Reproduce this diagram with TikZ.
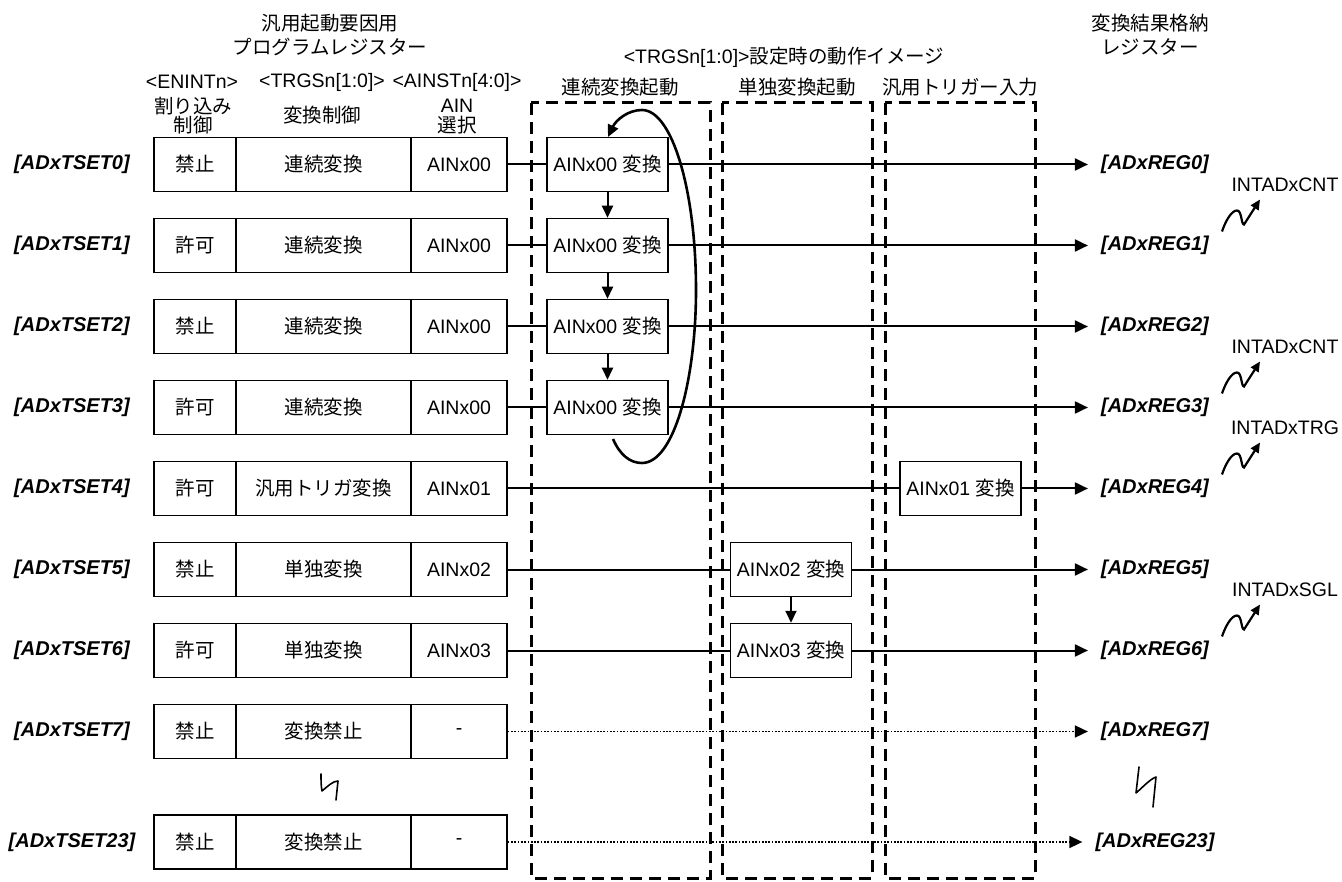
\documentclass[tikz,border=0pt]{standalone}
\usepackage{fontspec}
\setmainfont{Liberation Sans}
\newfontfamily\jpf{Noto Sans CJK JP}
\usetikzlibrary{arrows.meta}
\begin{document}
\begin{tikzpicture}[x=1pt,y=-1pt,
  every node/.style={inner sep=0pt, font=\fontsize{19.5}{21}\selectfont},
  lbl/.style={font=\fontsize{20}{22}\selectfont\bfseries\itshape},
  cell/.style={draw, line width=1.5pt, minimum height=54pt},
  conv/.style={draw, line width=1.5pt, minimum height=54pt, minimum width=121pt, fill=white},
  rowline/.style={line width=2pt},
  rowarrow/.style={line width=2pt, -{Triangle[length=13pt,width=12pt]}, shorten >=13pt},
  dotarrow/.style={line width=1.7pt, dash pattern=on 1.7pt off 1.6pt, -{Triangle[length=13pt,width=12pt]}, shorten >=13pt},
  vstep/.style={line width=2pt, -{Triangle[length=12pt,width=11pt]}},
  zone/.style={line width=3pt, dash pattern=on 12pt off 7pt},
  brk/.style={line width=1.6pt, line join=round, line cap=round},
  intsq/.pic={\draw[line width=2.2pt, -{Triangle[length=10pt,width=9pt]}]
     (0,0) .. controls (3,-9) and (9,-21) .. (15,-21)
     .. controls (20,-21) and (19,-7) .. (22,-7) -- (38,-32);}
]
\useasboundingbox (0,0) rectangle (1342,882);

% dashed zones
\draw[zone] (531,103) rectangle (710,878);
\draw[zone] (722,103) rectangle (872,878);
\draw[zone] (885,103) rectangle (1035,878);

% headers
\node (t1) at (330,23) {\jpf 汎用起動要因用};
\node (t2) at (330,47) {\jpf プログラムレジスター};
\node (t3) at (192,82) {<ENINTn>};
\node (t4) at (322,82) {<TRGSn[1:0]>};
\node (t5) at (457,82) {<AINSTn[4:0]>};
\node (t6) at (193,106) {\jpf 割り込み};
\node (t7) at (193,125) {\jpf 制御};
\node (t8) at (322,115) {\jpf 変換制御};
\node (t9) at (457,106) {AIN};
\node (t10) at (457,125) {\jpf 選択};
\node (t11) at (784,57) {<TRGSn[1:0]>{\jpf 設定時の動作イメージ}};
\node (t12) at (620,87) {\jpf 連続変換起動};
\node (t13) at (797,87) {\jpf 単独変換起動};
\node (t14) at (960,87) {\jpf 汎用トリガー入力};
\node (t15) at (1150,23) {\jpf 変換結果格納};
\node (t16) at (1150,47) {\jpf レジスター};

% register rows
\foreach \k/\yy/\en/\md/\ai in {0/164.5/禁止/連続変換/AINx00, 1/245.5/許可/連続変換/AINx00,
   2/326.5/禁止/連続変換/AINx00, 3/407.5/許可/連続変換/AINx00, 4/488.5/許可/汎用トリガ変換/AINx01,
   5/569.5/禁止/単独変換/AINx02, 6/650.5/許可/単独変換/AINx03, 7/731.5/禁止/変換禁止/-,
   23/842/禁止/変換禁止/-}{
  \node[lbl] (lb\k) at (72,\yy) {[ADxTSET\k]};
  \node[cell, minimum width=82pt] (en\k) at (195,\yy) {\jpf \en};
  \node[cell, minimum width=175pt] (md\k) at (323.5,\yy) {\jpf \md};
  \node[cell, minimum width=96pt] (ai\k) at (459,\yy) {\ai};
  \node[lbl] (rg\k) at (1155,\yy) {[ADxREG\k]};
}

% conversion boxes
\node[conv] (c0) at (607.5,164.5) {AINx00 {\jpf 変換}};
\node[conv] (c1) at (607.5,245.5) {AINx00 {\jpf 変換}};
\node[conv] (c2) at (607.5,326.5) {AINx00 {\jpf 変換}};
\node[conv] (c3) at (607.5,407.5) {AINx00 {\jpf 変換}};
\node[conv] (c4) at (960.5,488.5) {AINx01 {\jpf 変換}};
\node[conv] (c5) at (791,569.5) {AINx02 {\jpf 変換}};
\node[conv] (c6) at (791,650.5) {AINx03 {\jpf 変換}};

% row connectors
\foreach \k in {0,1,2,3,4,5,6}{
  \draw[rowline] (ai\k.east) -- (c\k.west);
  \draw[rowarrow] (c\k.east) -- (rg\k.west);
}
\draw[dotarrow] (ai7.east) -- (rg7.west);
\draw[dotarrow] (ai23.east) -- (rg23.west);

% sequence arrows
\draw[vstep] (c0.south) -- (c1.north);
\draw[vstep] (c1.south) -- (c2.north);
\draw[vstep] (c2.south) -- (c3.north);
\draw[vstep] (c5.south) -- (c6.north);

% loop
\coordinate (ls) at (613,439);
\coordinate (le) at (608,137);
\draw[line width=2.6pt, -{Triangle[length=12pt,width=11pt]}]
  (ls) .. controls (620,455) and (630,463) .. (642,463)
  .. controls (674,463) and (696,380) .. (696,290)
  .. controls (696,190) and (672,110) .. (642,110)
  .. controls (628,110) and (616,120) .. (le);

% interrupts
\pic at (1222,231.5) {intsq};
\pic at (1222,393.5) {intsq};
\pic at (1222,474.5) {intsq};
\pic at (1222,636.5) {intsq};
\node (i1) at (1285,184.5) {INTADxCNT};
\node (i3) at (1285,346.5) {INTADxCNT};
\node (i4) at (1285,427.5) {INTADxTRG};
\node (i6) at (1285,589.5) {INTADxSGL};

% break marks
\draw[brk] (321,774) .. controls (321,780) and (321,786) .. (322,791)
  .. controls (328,786) and (333,781) .. (338,781) -- (336,800);
\draw[brk] (1139,767) -- (1136,793) .. controls (1142,788) and (1150,779) .. (1156,777) -- (1153,807);
\end{tikzpicture}
\end{document}
